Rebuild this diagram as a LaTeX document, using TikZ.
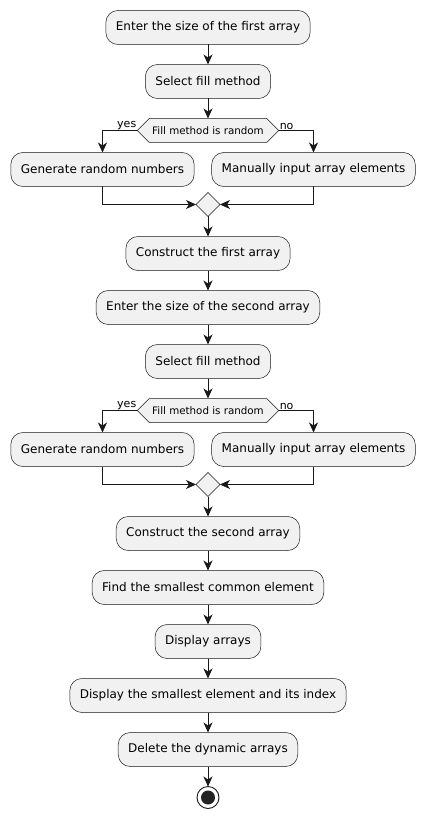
\documentclass[tikz,border=0pt]{standalone}
\usepackage{fontspec}
\setmainfont{DejaVu Sans}
\usetikzlibrary{positioning,shapes.geometric,shapes.symbols,arrows.meta}
\definecolor{actfill}{HTML}{F1F1F1}
\definecolor{actline}{HTML}{181818}
\begin{document}
\begin{tikzpicture}[x=1pt,y=1pt,node distance=20pt,every node/.style={outer sep=0pt},
		action/.style={draw=actline,fill=actfill,rounded corners=12pt,minimum height=34pt,inner xsep=10pt,font=\fontsize{12}{14}\selectfont,line width=0.5pt},
		test/.style={draw=actline,fill=actfill,signal,signal to=west and east,minimum height=24pt,inner xsep=3pt,font=\fontsize{10.3}{12}\selectfont,line width=0.5pt},
		merge/.style={draw=actline,fill=actfill,diamond,minimum size=24pt,inner sep=0pt,line width=0.5pt},
		flow/.style={-{Stealth[length=10pt,width=9pt,inset=3pt]},line width=0.9pt,draw=actline},
		lbl/.style={font=\fontsize{11}{13}\selectfont,inner sep=1pt}]
		\useasboundingbox (0,0) rectangle (423,-818);
		\node[action] (size1) at (208,-27.5) {Enter the size of the first array};
		\node[action,below=of size1] (fill1) {Select fill method};
		\node[test,below=of fill1] (rand1) {Fill method is random};
		\node[action,below=10pt of rand1,xshift=-105.5pt] (gen1) {Generate random numbers};
		\node[action,below=10pt of rand1,xshift=105.5pt] (man1) {Manually input array elements};
		\node[merge,yshift=-18pt] (m1) at (rand1|-gen1.south) {};
		\node[action,below=of m1] (arr1) {Construct the first array};
		\node[action,below=of arr1] (size2) {Enter the size of the second array};
		\node[action,below=of size2] (fill2) {Select fill method};
		\node[test,below=of fill2] (rand2) {Fill method is random};
		\node[action,below=10pt of rand2,xshift=-105.5pt] (gen2) {Generate random numbers};
		\node[action,below=10pt of rand2,xshift=105.5pt] (man2) {Manually input array elements};
		\node[merge,yshift=-18pt] (m2) at (rand2|-gen2.south) {};
		\node[action,below=of m2] (arr2) {Construct the second array};
		\node[action,below=of arr2] (find) {Find the smallest common element};
		\node[action,below=of find] (show) {Display arrays};
		\node[action,below=of show] (showmin) {Display the smallest element and its index};
		\node[action,below=of showmin] (del) {Delete the dynamic arrays};
		\node[circle,draw=actline,line width=0.9pt,minimum size=22pt,below=of del] (stop) {};
		\fill[actline!95!white] (stop) circle (7pt);
		
		\draw[flow] (size1)--(fill1);
		\draw[flow] (fill1)--(rand1);
		\draw[flow] (rand1.west)-|(gen1.north) node[lbl,pos=0,anchor=south east]{yes};
		\draw[flow] (rand1.east)-|(man1.north) node[lbl,pos=0,anchor=south west]{no};
		\draw[flow] (gen1.south)|-(m1.west);
		\draw[flow] (man1.south)|-(m1.east);
		\draw[flow] (m1)--(arr1);
		\draw[flow] (arr1)--(size2);
		\draw[flow] (size2)--(fill2);
		\draw[flow] (fill2)--(rand2);
		\draw[flow] (rand2.west)-|(gen2.north) node[lbl,pos=0,anchor=south east]{yes};
		\draw[flow] (rand2.east)-|(man2.north) node[lbl,pos=0,anchor=south west]{no};
		\draw[flow] (gen2.south)|-(m2.west);
		\draw[flow] (man2.south)|-(m2.east);
		\draw[flow] (m2)--(arr2);
		\draw[flow] (arr2)--(find);
		\draw[flow] (find)--(show);
		\draw[flow] (show)--(showmin);
		\draw[flow] (showmin)--(del);
		\draw[flow] (del)--(stop);
	\end{tikzpicture}
\end{document}
